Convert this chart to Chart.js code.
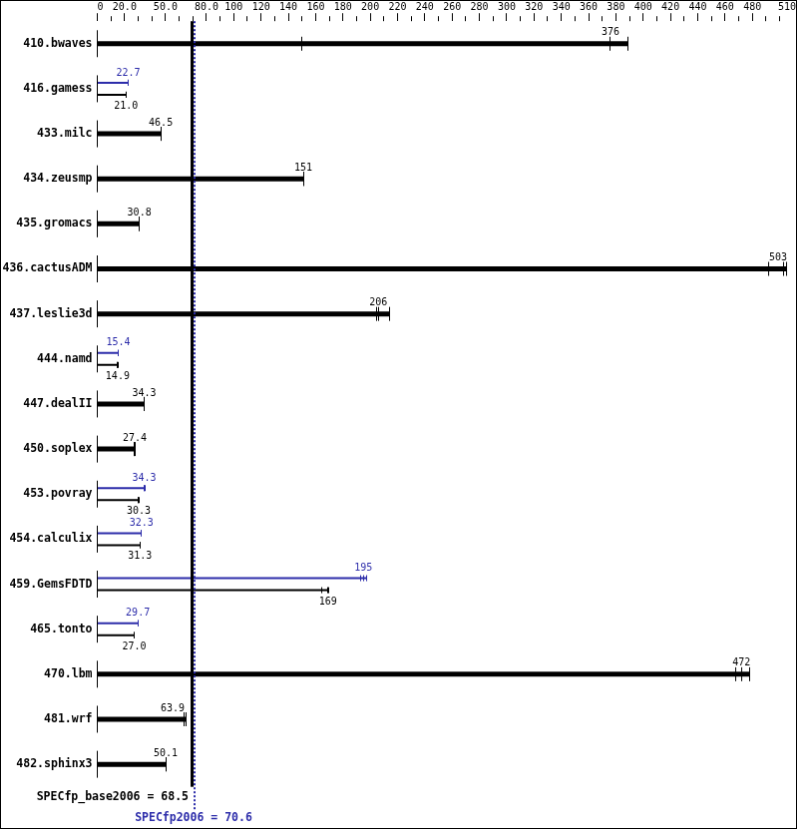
<!DOCTYPE html>
<html lang="en">
<head>
<meta charset="UTF-8">
<title>SPECfp2006</title>
<style>
    body {
        margin: 0;
        padding: 0;
        background: #fff;
    }
    #chart {
        display: block;
        border: 1px solid #000;
    }
</style>
</head>
<body>
<canvas id="chart" width="797" height="829"></canvas>
<script src="https://cdn.jsdelivr.net/npm/chart.js@4.4.1/dist/chart.umd.min.js"></script>
<script>
    const benchmarks = ['410.bwaves', '416.gamess', '433.milc', '434.zeusmp', '435.gromacs', '436.cactusADM',
        '437.leslie3d', '444.namd', '447.dealII', '450.soplex', '453.povray', '454.calculix',
        '459.GemsFDTD', '465.tonto', '470.lbm', '481.wrf', '482.sphinx3'];

    // reported (median) ratios
    const baseScores = [376, 21.0, 46.5, 151, 30.8, 503, 206, 14.9, 34.3, 27.4, 30.3, 31.3, 169, 27.0, 472, 63.9, 50.1];
    const peakScores = [null, 22.7, null, null, null, null, null, 15.4, null, null, 34.3, 32.3, 195, 29.7, null, null, null];

    // the three runs of each benchmark (tick marks on the bars)
    const baseRuns = [[150, 376, 389], [21.0, 21.0, 21.4], [46.5, 46.5, 46.6], [151, 151, 151.5], [30.8, 30.8, 30.9],
        [492, 503, 505], [205, 206, 214.5], [14.9, 14.9, 15.0], [34.3, 34.3, 34.4], [27.4, 27.4, 27.6],
        [30.3, 30.3, 31.0], [31.3, 31.3, 31.4], [164.4, 169, 169.5], [27.0, 27.0, 27.1], [468, 472, 478],
        [63.5, 63.9, 65.4], [50.1, 50.1, 50.2]];
    const peakRuns = [null, [22.7, 22.7, 22.7], null, null, null, null, null, [15.4, 15.4, 15.4], null, null,
        [34.3, 34.3, 34.8], [32.3, 32.3, 32.5], [193, 195, 197], [29.7, 29.7, 29.7], null, null, null];

    const specBase = 68.5;
    const specPeak = 70.6;

    const axisMax = 512;
    const tickValues = [0, 20, 50, 80, 100, 120, 140, 160, 180, 200, 220, 240, 260, 280, 300, 320, 340, 360,
        380, 400, 420, 440, 460, 480, 512];
    const tickLabels = ['0', '20.0', '50.0', '80.0', '100', '120', '140', '160', '180', '200', '220', '240', '260',
        '280', '300', '320', '340', '360', '380', '400', '420', '440', '460', '480', '510'];
    const minorTicks = [10, 30, 40, 60, 70, 90, 110, 130, 150, 170, 190, 210, 230, 250, 270, 290, 310, 330, 350,
        370, 390, 410, 430, 450, 470, 490, 500];

    const blue = '#2d2daa';
    const monoFont = '"DejaVu Sans Mono", monospace';

    const maxOf = runs => runs ? Math.max(...runs) : null;
    const peakBar = peakRuns.map(maxOf);
    const baseThin = baseRuns.map((r, i) => peakScores[i] != null ? maxOf(r) : null);
    const baseThick = baseRuns.map((r, i) => peakScores[i] == null ? maxOf(r) : null);

    const fmt = v => v >= 100 ? v.toFixed(0) : v.toFixed(1);
    const align = px => Math.round(px - 0.5) + 0.5;

    function vline(ctx, x, y1, y2) {
        ctx.beginPath();
        ctx.moveTo(x, y1);
        ctx.lineTo(x, y2);
        ctx.stroke();
    }

    const specMarks = {
        id: 'specMarks',
        afterDatasetsDraw(chart) {
            const { ctx, chartArea, scales: { x, y } } = chart;
            const blackX = Math.round(x.getPixelForValue(specBase));
            const blueX = Math.round(x.getPixelForValue(specPeak));

            function drawRuns(runs, yc, half, color) {
                ctx.strokeStyle = color;
                runs.forEach(v => vline(ctx, align(x.getPixelForValue(v)), yc - half, yc + half));
            }

            function drawLabel(v, yc, color) {
                const text = fmt(v);
                const w = ctx.measureText(text).width;
                let r = x.getPixelForValue(v) + w / 2;
                if (r > chartArea.right - 9) r = chartArea.right - 9;
                if (r - w < blueX + 3 && r > blackX - 3) r = blackX - 6;
                ctx.fillStyle = color;
                ctx.fillText(text, r - w, yc);
            }

            ctx.save();
            ctx.lineWidth = 1;
            ctx.font = '10px ' + monoFont;
            ctx.textBaseline = 'middle';
            ctx.textAlign = 'left';
            const x0 = align(x.getPixelForValue(0));
            benchmarks.forEach((name, i) => {
                const yc = y.getPixelForValue(i);
                ctx.strokeStyle = '#000';
                vline(ctx, x0, yc - 13.5, yc + 13.5);
                if (peakScores[i] != null) {
                    drawRuns(peakRuns[i], yc - 6, 3, blue);
                    drawRuns(baseRuns[i], yc + 6, 3, '#000');
                    drawLabel(peakScores[i], yc - 16, blue);
                    drawLabel(baseScores[i], yc + 17.5, '#000');
                } else {
                    drawRuns(baseRuns[i], yc, 7, '#000');
                    drawLabel(baseScores[i], yc - 11, '#000');
                }
            });

            // overall scores
            ctx.fillStyle = '#000';
            ctx.fillRect(blackX, chartArea.top, 3, chartArea.bottom - chartArea.top);
            ctx.fillStyle = blue;
            for (let yy = chartArea.top; yy < chartArea.bottom + 22; yy += 4) {
                ctx.fillRect(blueX, yy, 2, 2);
            }

            ctx.font = 'bold 11.5px ' + monoFont;
            ctx.fillStyle = '#000';
            ctx.textAlign = 'right';
            ctx.fillText('SPECfp_base2006 = ' + fmt(specBase), blackX - 2, chartArea.bottom + 10);
            ctx.fillStyle = blue;
            ctx.textAlign = 'center';
            ctx.fillText('SPECfp2006 = ' + fmt(specPeak), blueX, chartArea.bottom + 31);
            ctx.restore();
        },
        afterDraw(chart) {
            const { ctx, chartArea, scales: { x } } = chart;
            ctx.save();
            ctx.strokeStyle = '#000';
            ctx.lineWidth = 1;
            minorTicks.forEach(v => vline(ctx, align(x.getPixelForValue(v)), chartArea.top - 5, chartArea.top));
            ctx.restore();
        }
    };

    const ctx = document.getElementById('chart').getContext('2d');
    const chart = new Chart(ctx, {
        type: 'bar',
        data: {
            labels: benchmarks,
            datasets: [{
                label: 'peak',
                data: peakBar,
                backgroundColor: blue,
                barThickness: 12,
                maxBarThickness: 2,
                inflateAmount: 0
            }, {
                label: 'base',
                data: baseThin,
                backgroundColor: '#000',
                barThickness: 12,
                maxBarThickness: 2,
                inflateAmount: 0
            }, {
                label: 'base only',
                data: baseThick,
                backgroundColor: '#000',
                barThickness: 5,
                grouped: false,
                inflateAmount: 0
            }]
        },
        options: {
            indexAxis: 'y',
            responsive: false,
            animation: false,
            layout: {
                padding: { left: 0, right: 0, top: 0, bottom: 41.3 }
            },
            plugins: {
                legend: { display: false },
                tooltip: { enabled: false }
            },
            scales: {
                x: {
                    type: 'linear',
                    position: 'top',
                    min: 0,
                    max: axisMax,
                    border: { display: false },
                    grid: { drawOnChartArea: false, tickLength: 8, color: '#000' },
                    ticks: {
                        autoSkip: false,
                        maxRotation: 0,
                        align: 'inner',
                        padding: 0,
                        color: '#000',
                        font: { family: monoFont, size: 10 },
                        callback: (v, i) => tickLabels[i]
                    },
                    afterBuildTicks: scale => {
                        scale.ticks = tickValues.map(v => ({ value: v }));
                    },
                    afterFit: scale => {
                        scale.height = 20.2;
                    }
                },
                y: {
                    border: { display: false },
                    grid: { display: false, drawTicks: false },
                    ticks: {
                        padding: 5,
                        color: '#000',
                        font: { family: monoFont, size: 11.5, weight: 'bold' }
                    },
                    afterFit: scale => {
                        scale.width = 96.5;
                    }
                }
            }
        },
        plugins: [specMarks]
    });
</script>
</body>
</html>
